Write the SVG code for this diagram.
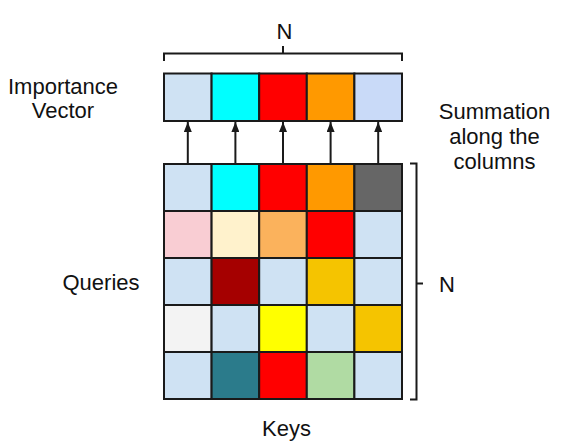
<svg xmlns="http://www.w3.org/2000/svg" width="561" height="446" viewBox="0 0 561 446">
<style>
.t{font-family:"Liberation Sans",Arial,sans-serif;font-size:22px;fill:#111;text-anchor:middle}
.c{stroke:#1a1a1a;stroke-width:2}
.ln{stroke:#1a1a1a;stroke-width:2;fill:none}
</style>
<defs>
<marker id="ah" viewBox="0 0 10 8" refX="10" refY="4" markerWidth="5" markerHeight="4" orient="auto" markerUnits="strokeWidth">
<path d="M0,0 L10,4 L0,8 z" fill="#1a1a1a"/>
</marker>
</defs>
<rect width="561" height="446" fill="#fff"/>
<g id="importance-vector">
<rect class="c" x="164" y="73.5" width="47.6" height="47.5" fill="#cfe2f3"/>
<rect class="c" x="211.6" y="73.5" width="47.6" height="47.5" fill="#00ffff"/>
<rect class="c" x="259.2" y="73.5" width="47.6" height="47.5" fill="#ff0000"/>
<rect class="c" x="306.8" y="73.5" width="47.6" height="47.5" fill="#ff9900"/>
<rect class="c" x="354.4" y="73.5" width="47.6" height="47.5" fill="#c9daf8"/>
</g>
<g id="matrix">
<rect class="c" x="164" y="164" width="47.6" height="47" fill="#cfe2f3"/>
<rect class="c" x="211.6" y="164" width="47.6" height="47" fill="#00ffff"/>
<rect class="c" x="259.2" y="164" width="47.6" height="47" fill="#ff0000"/>
<rect class="c" x="306.8" y="164" width="47.6" height="47" fill="#ff9900"/>
<rect class="c" x="354.4" y="164" width="47.6" height="47" fill="#666666"/>
<rect class="c" x="164" y="211" width="47.6" height="47" fill="#f9cdd3"/>
<rect class="c" x="211.6" y="211" width="47.6" height="47" fill="#fff2cc"/>
<rect class="c" x="259.2" y="211" width="47.6" height="47" fill="#fbb25c"/>
<rect class="c" x="306.8" y="211" width="47.6" height="47" fill="#ff0000"/>
<rect class="c" x="354.4" y="211" width="47.6" height="47" fill="#cfe2f3"/>
<rect class="c" x="164" y="258" width="47.6" height="47" fill="#cfe2f3"/>
<rect class="c" x="211.6" y="258" width="47.6" height="47" fill="#a50000"/>
<rect class="c" x="259.2" y="258" width="47.6" height="47" fill="#cfe2f3"/>
<rect class="c" x="306.8" y="258" width="47.6" height="47" fill="#f5c400"/>
<rect class="c" x="354.4" y="258" width="47.6" height="47" fill="#cfe2f3"/>
<rect class="c" x="164" y="305" width="47.6" height="47" fill="#f3f3f3"/>
<rect class="c" x="211.6" y="305" width="47.6" height="47" fill="#cfe2f3"/>
<rect class="c" x="259.2" y="305" width="47.6" height="47" fill="#ffff00"/>
<rect class="c" x="306.8" y="305" width="47.6" height="47" fill="#cfe2f3"/>
<rect class="c" x="354.4" y="305" width="47.6" height="47" fill="#f5c400"/>
<rect class="c" x="164" y="352" width="47.6" height="47" fill="#cfe2f3"/>
<rect class="c" x="211.6" y="352" width="47.6" height="47" fill="#2b7b8b"/>
<rect class="c" x="259.2" y="352" width="47.6" height="47" fill="#ff0000"/>
<rect class="c" x="306.8" y="352" width="47.6" height="47" fill="#b0dba3"/>
<rect class="c" x="354.4" y="352" width="47.6" height="47" fill="#cfe2f3"/>
</g>
<g id="connectors">
<line class="ln" x1="187.8" y1="164" x2="187.8" y2="122" marker-end="url(#ah)"/>
<line class="ln" x1="235.4" y1="164" x2="235.4" y2="122" marker-end="url(#ah)"/>
<line class="ln" x1="283" y1="164" x2="283" y2="122" marker-end="url(#ah)"/>
<line class="ln" x1="330.6" y1="164" x2="330.6" y2="122" marker-end="url(#ah)"/>
<line class="ln" x1="378.2" y1="164" x2="378.2" y2="122" marker-end="url(#ah)"/>
</g>
<g id="top-brace">
<path class="ln" d="M164,61 V53.5 H402 V61 M283,53.5 V46"/>
<text class="t" x="284.5" y="38.5">N</text>
</g>
<g id="right-brace">
<path class="ln" d="M410,163.5 H416.5 V399.5 H410 M416.5,283.5 H423"/>
<text class="t" x="447" y="291.5">N</text>
</g>
<g id="labels">
<text class="t" x="63" y="93.5">Importance</text>
<text class="t" x="63" y="117.5">Vector</text>
<text class="t" x="494.5" y="118.5">Summation</text>
<text class="t" x="494.5" y="143.5">along the</text>
<text class="t" x="494.5" y="168.5">columns</text>
<text class="t" x="101" y="290">Queries</text>
<text class="t" x="286.5" y="436">Keys</text>
</g>
</svg>
